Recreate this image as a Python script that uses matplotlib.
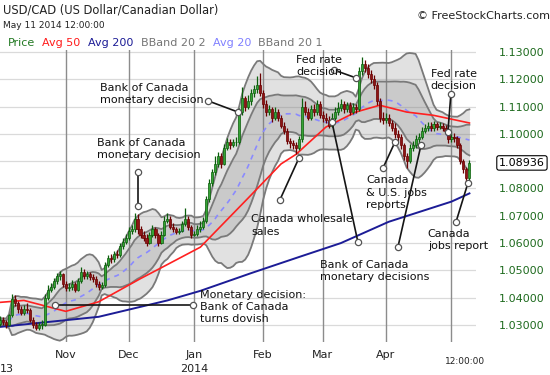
import matplotlib
matplotlib.use("Agg")
import matplotlib.pyplot as plt
import numpy as np
import pandas as pd

plt.rcParams["font.family"] = ["DejaVu Sans"]

# daily bars, weekdays only
dates = pd.bdate_range("2013-10-01", "2014-05-09")
first_open = 1.0295
closes = [
    1.0305, 1.0320, 1.0310, 1.0300,
    1.0335, 1.0395, 1.0380, 1.0360, 1.0345,
    1.0360, 1.0355, 1.0320, 1.0300, 1.0290,
    1.0300, 1.0300, 1.0400, 1.0430, 1.0440,
    1.0460, 1.0480, 1.0485, 1.0450, 1.0435,
    1.0440, 1.0450, 1.0430, 1.0460, 1.0495,
    1.0480, 1.0485, 1.0475, 1.0470, 1.0450,
    1.0440, 1.0445, 1.0520, 1.0545, 1.0540,
    1.0560, 1.0555, 1.0590, 1.0605, 1.0620,
    1.0645, 1.0650, 1.0690, 1.0650, 1.0630,
    1.0620, 1.0600, 1.0630, 1.0650, 1.0630,
    1.0600, 1.0630, 1.0680, 1.0690, 1.0660,
    1.0650, 1.0640, 1.0645, 1.0670, 1.0690,
    1.0660, 1.0630, 1.0635, 1.0650, 1.0660,
    1.0680, 1.0760, 1.0820, 1.0860, 1.0890,
    1.0920, 1.0890, 1.0950, 1.0970, 1.0960,
    1.0970, 1.0970, 1.1080, 1.1130, 1.1100,
    1.1120, 1.1150, 1.1165, 1.1180, 1.1150,
    1.1110, 1.1080, 1.1090, 1.1060, 1.1080,
    1.1060, 1.1030, 1.1010, 1.0975, 1.0965,
    1.0960, 1.0950, 1.0980, 1.1100, 1.1080,
    1.1060, 1.1090, 1.1080, 1.1110, 1.1070,
    1.1060, 1.1050, 1.1030, 1.1060, 1.1080,
    1.1095, 1.1110, 1.1090, 1.1105, 1.1080,
    1.1100, 1.1090, 1.1230, 1.1255, 1.1240,
    1.1220, 1.1200, 1.1180, 1.1120, 1.1060,
    1.1050, 1.1060, 1.1040, 1.1020, 1.1000,
    1.0990, 1.0960, 1.0920, 1.0900, 1.0950,
    1.0960, 1.0980, 1.0990, 1.1010, 1.1020,
    1.1030, 1.1020, 1.1035, 1.1025, 1.1030,
    1.1020, 1.1010, 1.0980, 1.0990, 1.0985,
    1.0960, 1.0900, 1.0870, 1.0840, 1.08936,
]
highs = [
    1.0318, 1.0332, 1.0328, 1.0318,
    1.0342, 1.0412, 1.0410, 1.0388, 1.0370,
    1.0372, 1.0380, 1.0362, 1.0328, 1.0310,
    1.0312, 1.0318, 1.0412, 1.0445, 1.0455,
    1.0472, 1.0492, 1.0498, 1.0490, 1.0460,
    1.0452, 1.0465, 1.0458, 1.0472, 1.0512,
    1.0505, 1.0498, 1.0495, 1.0488, 1.0478,
    1.0460, 1.0458, 1.0530, 1.0558, 1.0560,
    1.0572, 1.0575, 1.0602, 1.0618, 1.0632,
    1.0658, 1.0665, 1.0712, 1.0705, 1.0662,
    1.0645, 1.0632, 1.0642, 1.0668, 1.0660,
    1.0638, 1.0645, 1.0698, 1.0712, 1.0700,
    1.0672, 1.0660, 1.0655, 1.0682, 1.0730,
    1.0698, 1.0668, 1.0645, 1.0665, 1.0680,
    1.0695, 1.0772, 1.0835, 1.0872, 1.0918,
    1.0935, 1.0930, 1.0962, 1.0985, 1.0982,
    1.0980, 1.0988, 1.1095, 1.1172, 1.1140,
    1.1142, 1.1165, 1.1180, 1.1212, 1.1222,
    1.1160, 1.1125, 1.1105, 1.1100, 1.1098,
    1.1090, 1.1070, 1.1042, 1.1020, 1.0985,
    1.0978, 1.0972, 1.0992, 1.1130, 1.1120,
    1.1095, 1.1105, 1.1110, 1.1125, 1.1120,
    1.1085, 1.1075, 1.1065, 1.1075, 1.1098,
    1.1115, 1.1128, 1.1120, 1.1118, 1.1115,
    1.1112, 1.1110, 1.1245, 1.1280, 1.1270,
    1.1255, 1.1235, 1.1215, 1.1190, 1.1130,
    1.1080, 1.1078, 1.1072, 1.1052, 1.1040,
    1.1015, 1.1000, 1.0968, 1.0930, 1.0962,
    1.0975, 1.0995, 1.1005, 1.1025, 1.1035,
    1.1045, 1.1042, 1.1048, 1.1045, 1.1042,
    1.1040, 1.1032, 1.1018, 1.1005, 1.1002,
    1.0992, 1.0965, 1.0908, 1.0880, 1.0905,
]
lows = [
    1.0285, 1.0298, 1.0300, 1.0290,
    1.0295, 1.0330, 1.0370, 1.0345, 1.0335,
    1.0338, 1.0345, 1.0310, 1.0288, 1.0280,
    1.0282, 1.0285, 1.0295, 1.0390, 1.0420,
    1.0432, 1.0450, 1.0465, 1.0440, 1.0425,
    1.0425, 1.0430, 1.0420, 1.0425, 1.0455,
    1.0470, 1.0468, 1.0465, 1.0458, 1.0440,
    1.0430, 1.0432, 1.0440, 1.0512, 1.0528,
    1.0532, 1.0545, 1.0548, 1.0580, 1.0598,
    1.0612, 1.0632, 1.0640, 1.0635, 1.0618,
    1.0608, 1.0590, 1.0595, 1.0622, 1.0620,
    1.0588, 1.0595, 1.0625, 1.0672, 1.0650,
    1.0640, 1.0632, 1.0635, 1.0640, 1.0662,
    1.0648, 1.0620, 1.0625, 1.0625, 1.0640,
    1.0652, 1.0675, 1.0752, 1.0810, 1.0850,
    1.0878, 1.0875, 1.0885, 1.0940, 1.0945,
    1.0952, 1.0955, 1.0962, 1.1070, 1.1085,
    1.1090, 1.1105, 1.1135, 1.1150, 1.1140,
    1.1095, 1.1065, 1.1070, 1.1045, 1.1050,
    1.1048, 1.1020, 1.1000, 1.0962, 1.0950,
    1.0945, 1.0928, 1.0940, 1.0972, 1.1068,
    1.1050, 1.1052, 1.1065, 1.1070, 1.1060,
    1.1045, 1.1040, 1.1020, 1.1025, 1.1050,
    1.1070, 1.1085, 1.1078, 1.1082, 1.1070,
    1.1072, 1.1075, 1.1085, 1.1215, 1.1225,
    1.1205, 1.1185, 1.1165, 1.1105, 1.1045,
    1.1035, 1.1040, 1.1030, 1.1010, 1.0985,
    1.0975, 1.0945, 1.0905, 1.0875, 1.0892,
    1.0938, 1.0948, 1.0965, 1.0982, 1.1005,
    1.1012, 1.1010, 1.1012, 1.1015, 1.1018,
    1.1010, 1.0998, 1.0965, 1.0970, 1.0972,
    1.0948, 1.0890, 1.0855, 1.0825, 1.0815,
]

# moving averages (they need history before the window)
avg50_dates = ["2013-10-01", "2013-10-14", "2013-11-01", "2013-11-18", "2013-12-06",
               "2013-12-17", "2014-01-03", "2014-01-27", "2014-02-11", "2014-02-18",
               "2014-03-04", "2014-03-18", "2014-03-28", "2014-04-10", "2014-04-23",
               "2014-05-09"]
avg50_vals = [1.0382, 1.0390, 1.0350, 1.0385, 1.0470, 1.0510, 1.0585, 1.0765,
              1.0890, 1.0925, 1.1025, 1.1080, 1.1105, 1.1080, 1.1068, 1.1040]
avg200_dates = ["2013-10-02", "2013-11-18", "2013-12-19", "2014-01-03", "2014-01-28",
                "2014-02-19", "2014-03-11", "2014-04-02", "2014-05-01", "2014-05-09"]
avg200_vals = [1.0293, 1.0330, 1.0390, 1.0425, 1.0490, 1.0549, 1.0600, 1.0678,
               1.0752, 1.0782]

month_starts = ["2013-11-01", "2013-12-02", "2014-01-01", "2014-02-03",
                "2014-03-03", "2014-04-01", "2014-05-01"]
month_labels = ["Nov", "Dec", "Jan", "Feb", "Mar", "Apr"]
price_levels = [1.03, 1.04, 1.05, 1.06, 1.07, 1.08, 1.09, 1.10, 1.11, 1.12, 1.13]
last_price = 1.08936


def to_idx(ds):
    return dates.get_indexer(pd.to_datetime(ds))


x = np.arange(len(dates))
c = np.array(closes)
o = np.r_[first_open, c[:-1]]
h = np.array(highs)
l = np.array(lows)

s = pd.Series(c)
ma20 = s.rolling(20, min_periods=1).mean().values
sd20 = s.rolling(20, min_periods=3).std(ddof=0).bfill().values

fig = plt.figure(figsize=(5.5, 3.75), dpi=100)
ax = fig.add_axes([0, 1 - 342 / 375, 476 / 550, 292 / 375])
ax.set_xlim(1.0, 160.2)
ax.set_ylim(1.02377, 1.13073)
for sp in ax.spines.values():
    sp.set_visible(False)

# grid
for p in price_levels:
    ax.axhline(p, color="#dadada", lw=0.9, zorder=0.5)
for i in to_idx(month_starts):
    ax.axvline(i, color="#8c8c8c", lw=1.0, zorder=0.6)

# bollinger bands
ax.fill_between(x, ma20 - 2 * sd20, ma20 + 2 * sd20, color="#808080", alpha=0.23, lw=0, zorder=1)
ax.fill_between(x, ma20 - sd20, ma20 + sd20, color="#808080", alpha=0.23, lw=0, zorder=1.1)
for k in (-2, -1, 1, 2):
    ax.plot(x, ma20 + k * sd20, color="#7a7a7a", lw=1.3, zorder=2)
ax.plot(x, ma20, color="#8a8aff", lw=1.2, dashes=(3, 3), zorder=2.5)

ax.plot(to_idx(avg50_dates), avg50_vals, color="#ff2020", lw=1.2, zorder=3)
ax.plot(to_idx(avg200_dates), avg200_vals, color="#1c1c96", lw=1.4, zorder=3)

# candles
up = c >= o
for m, face, edge in ((up, "#35a335", "#0b5e0b"), (~up, "#8e1515", "#6a0000")):
    ax.vlines(x[m], l[m], h[m], color=edge, lw=0.9, zorder=4)
    ax.bar(x[m], np.maximum(np.abs(c - o)[m], 0.0002), bottom=np.minimum(o, c)[m],
           width=0.7, color=face, edgecolor=edge, lw=0.5, zorder=5)

# notes
notes = [
    ("Bank of Canada\nmonetary decision", (34.4, 1.1146), [(70.6, 1.1121), (80.6, 1.1080)]),
    ("Bank of Canada\nmonetary decision", (33.4, 1.0945), [(47.2, 1.0860), (47.2, 1.0736)]),
    ("Fed rate\ndecision", (100.0, 1.1249), [(112.7, 1.1234), (120.1, 1.1205)]),
    ("Canada wholesale\nsales", (85.0, 1.0665), [(94.6, 1.0758), (101.0, 1.0912)]),
    ("Bank of Canada\nmonetary decisions", (108.0, 1.0498), [(120.7, 1.0604), (112.0, 1.1044)]),
    ("", (134.1, 1.0586), [(134.1, 1.0586), (141.8, 1.0959)]),
    ("Canada\n& U.S. jobs\nreports", (123.4, 1.0784), [(129.1, 1.0875), (133.1, 1.0970)]),
    ("Fed rate\ndecision", (145.1, 1.1197), [(151.8, 1.1146), (150.8, 1.1007)]),
    ("Canada\njobs report", (144.1, 1.0611), [(153.5, 1.0677), (157.5, 1.0820)]),
    ("Monetary decision:\nBank of Canada\nturns dovish", (67.9, 1.0366), [(19.4, 1.0373), (65.5, 1.0373)]),
]
for txt, (tx, ty), pts in notes:
    if txt:
        ax.text(tx, ty, txt, fontsize=8, color="#111111", ha="left", va="center",
                linespacing=1.3, zorder=7)
    px_, py_ = zip(*pts)
    ax.plot(px_, py_, color="#151515", lw=1.2, zorder=6)
    ax.plot(px_, py_, ls="none", marker="o", ms=4.5, mfc="white", mec="#555555", mew=0.9, zorder=6.5)

# right price axis
ax.yaxis.tick_right()
ax.set_yticks(price_levels)
ax.set_yticklabels(["" if abs(p - 1.09) < 1e-9 else f"{p:.5f}" for p in price_levels])
ax.tick_params(axis="y", length=0, pad=16.5, labelsize=8, labelcolor="#1f6b1f")
ax.text(1 + 23 / 476, last_price, f"{last_price:.5f}", transform=ax.get_yaxis_transform(),
        ha="left", va="center", fontsize=8, color="black", clip_on=False,
        bbox=dict(boxstyle="round,pad=0.2", fc="white", ec="black", lw=0.8))

# time axis labels
ax.set_xticks([])
xt = ax.get_xaxis_transform()
for i, lab in zip(to_idx(month_starts[:-1]), month_labels):
    ax.text(i, -13 / 292, lab, transform=xt, ha="center", va="center", fontsize=8, color="#222222")
ax.text(to_idx(["2014-05-01"])[0] + 4.5, -20 / 292, "12:00:00", transform=xt,
        ha="center", va="center", fontsize=6.5, color="#222222")
# the 2013 year label is cut by the left edge in the original, only "13" shows
ax.text(0.0, -27 / 292, "13", transform=ax.transAxes, ha="left", va="center",
        fontsize=8, color="#222222")
ax.text(to_idx(["2014-01-01"])[0], -27 / 292, "2014", transform=xt, ha="center", va="center",
        fontsize=8, color="#222222")

# header
fig.text(3 / 550, 1 - 10 / 375, "USD/CAD (US Dollar/Canadian Dollar)", fontsize=8.3,
         color="#222222", ha="left", va="center")
fig.text(3 / 550, 1 - 26 / 375, "May 11 2014 12:00:00", fontsize=6.5, color="#222222",
         ha="left", va="center")
fig.text(417 / 550, 1 - 16 / 375, "\u00a9 FreeStockCharts.com", fontsize=8, color="#222222",
         ha="left", va="center")
legend_items = [("Price", "#237a23", 8), ("Avg 50", "#ff1a1a", 42), ("Avg 200", "#1c1c96", 88),
                ("BBand 20 2", "#757575", 141), ("Avg 20", "#8080ff", 213),
                ("BBand 20 1", "#757575", 258)]
for name, col, px in legend_items:
    fig.text(px / 550, 1 - 43 / 375, name, fontsize=8, color=col, ha="left", va="center")

fig.savefig("out.png", dpi=100)
